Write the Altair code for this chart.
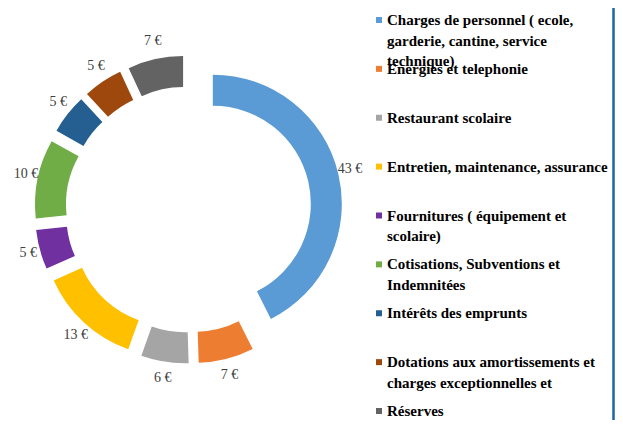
import altair as alt
import pandas as pd

categories = [
    "Charges de personnel ( ecole, garderie, cantine, service technique)",
    "Energies et telephonie",
    "Restaurant scolaire",
    "Entretien,  maintenance, assurance",
    "Fournitures ( équipement et scolaire)",
    "Cotisations, Subventions et Indemnitées",
    "Intérêts des emprunts",
    "Dotations aux amortissements et charges exceptionnelles et",
    "Réserves",
]
legend_text = [
    "Charges de personnel ( ecole,\ngarderie, cantine, service\ntechnique)",
    "Energies et telephonie",
    "Restaurant scolaire",
    "Entretien,  maintenance, assurance",
    "Fournitures ( équipement et\nscolaire)",
    "Cotisations, Subventions et\nIndemnitées",
    "Intérêts des emprunts",
    "Dotations aux amortissements et\ncharges exceptionnelles et",
    "Réserves",
]
values = [43, 7, 6, 13, 5, 10, 5, 5, 7]
colors = ["#5B9BD5", "#ED7D31", "#A5A5A5", "#FFC000", "#7030A0",
          "#70AD47", "#255E91", "#9E480E", "#636363"]

df = pd.DataFrame({
    "cat": categories,
    "value": values,
    "idx": list(range(len(values))),
    "legend": legend_text,
})

SERIF = "Liberation Serif, Times New Roman, Tinos, DejaVu Serif, serif"

CX, CY = 180.5, 201.5   # donut centre (layout)
D = 25                  # explosion distance
RX, RY = 166, 172       # label distances
LCY = CY - 1

base = (
    alt.Chart(df)
    .transform_joinaggregate(total="sum(value)")
    .transform_window(cum="sum(value)", sort=[alt.SortField("idx")], frame=[None, 0])
    .transform_calculate(a0="2*PI*(datum.cum - datum.value)/datum.total")
    .transform_calculate(a1="2*PI*datum.cum/datum.total")
    .transform_calculate(am="2*PI*(datum.cum - datum.value/2)/datum.total")
    .transform_calculate(cx=f"{CX} + {D}*sin(datum.am)")
    .transform_calculate(cy=f"{CY} - {D}*cos(datum.am)")
    .transform_calculate(lx=f"{CX} + {RX}*sin(datum.am)")
    .transform_calculate(ly=f"{LCY} - {RY}*cos(datum.am)")
    .transform_calculate(lab="datum.value + ' €'")
)

color = alt.Color("cat:N", scale=alt.Scale(domain=categories, range=colors), legend=None)

arcs = base.mark_arc(innerRadius=98, outerRadius=129).encode(
    theta=alt.Theta("a0:Q", scale=None),
    theta2="a1:Q",
    x=alt.X("cx:Q", scale=None, axis=None),
    y=alt.Y("cy:Q", scale=None, axis=None),
    color=color,
)

labels = base.mark_text(font=SERIF, fontSize=14, color="#404040").encode(
    x=alt.X("lx:Q", scale=None, axis=None),
    y=alt.Y("ly:Q", scale=None, axis=None),
    text="lab:N",
)

ly = alt.Y("cat:N", sort=categories,
           scale=alt.Scale(type="point", range=[12, 403], padding=0), axis=None)

leg_sym = base.mark_square(size=36, opacity=1).encode(
    x=alt.value(371), y=ly, color=color,
)

leg_txt = base.transform_calculate(lines="split(datum.legend, '\\n')").mark_text(
    align="left", baseline="alphabetic", dy=5, font=SERIF,
    fontSize=15, fontWeight="bold", lineHeight=20.5, color="#000000",
).encode(x=alt.value(379), y=ly, text="lines:N")

border = alt.Chart(pd.DataFrame({"a": [0]})).mark_rule(
    color="#1F65A4", strokeWidth=2.5
).encode(x=alt.value(605.5), y=alt.value(0), y2=alt.value(412))

chart = (
    alt.layer(arcs, labels, leg_sym, leg_txt, border)
    .resolve_scale(y="independent", x="independent")
    .properties(width=607, height=412, padding=0, autosize="none", background="white")
    .configure_view(stroke=None)
)

chart.save("out.html", embed_options={"renderer": "svg", "actions": False})
